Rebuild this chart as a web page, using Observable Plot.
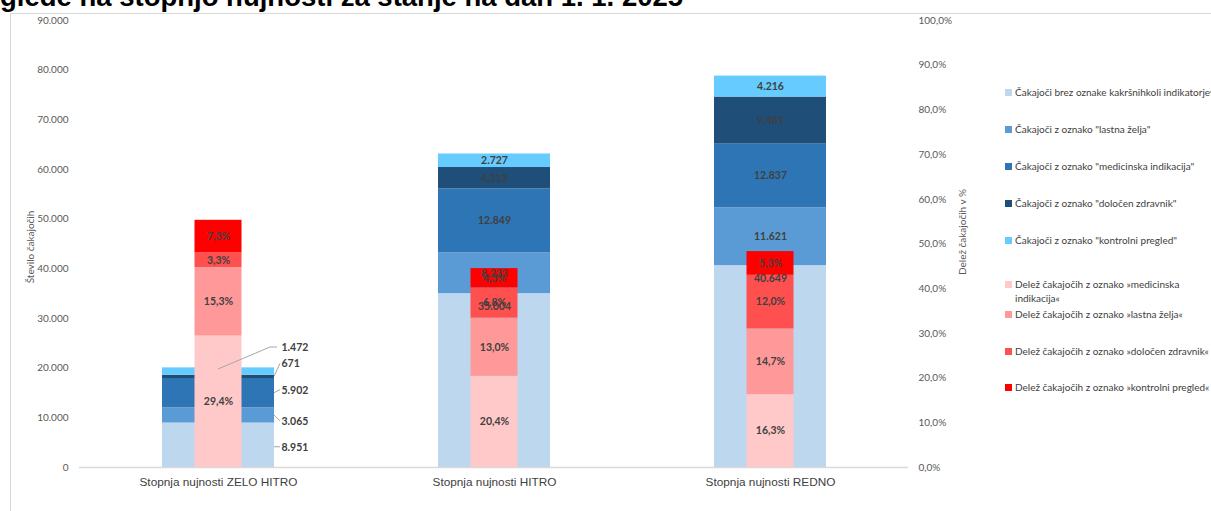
<!DOCTYPE html>
<html>
<head>
<meta charset="utf-8">
<script src="https://cdn.jsdelivr.net/npm/d3@7"></script>
<script src="https://cdn.jsdelivr.net/npm/@observablehq/plot@0.6"></script>
<style>
  html, body { margin:0; padding:0; background:#fff; width:1211px; height:511px; overflow:hidden; position:relative; }
  #title { position:absolute; left:0; top:-17px; font: bold 27.5px "Liberation Sans", Arial, sans-serif; line-height:27px; white-space:nowrap; color:#000; }
  #frame { position:absolute; left:10px; top:13px; width:1205px; height:510px; border:1px solid #d9d9d9; box-sizing:border-box; }
  #chart { position:absolute; left:11px; top:14px; }
  .ytitle { position:absolute; font: 10px Lato, "Open Sans", sans-serif; color:#595959; white-space:nowrap; transform: translate(-50%,-50%) rotate(-90deg); }
  #legend { position:absolute; left:1005px; top:0; font: 10px Lato, "Open Sans", sans-serif; color:#404040; }
  .li { position:absolute; left:0; white-space:nowrap; line-height:14px; }
  .sw { position:absolute; left:0; width:7px; height:7px; }
  .lt { position:absolute; left:10px; top:0; }
</style>
</head>
<body>
<div id="title">glede na stopnjo nujnosti za stanje na dan 1. 1. 2025</div>
<div id="frame"></div>
<div id="chart"></div>
<div class="ytitle" style="left:30px; top:247px;">Število čakajočih</div>
<div class="ytitle" style="left:962px; top:232px;">Delež čakajočih v %</div>
<div id="legend"></div>
<script>
// ---------------- data ----------------
const categories = ["Stopnja nujnosti ZELO HITRO", "Stopnja nujnosti HITRO", "Stopnja nujnosti REDNO"];

const blueSeries = [
  "Čakajoči brez oznake kakršnihkoli indikatorjev",
  "Čakajoči z oznako \"lastna želja\"",
  "Čakajoči z oznako \"medicinska indikacija\"",
  "Čakajoči z oznako \"določen zdravnik\"",
  "Čakajoči z oznako \"kontrolni pregled\""
];
// values per category, bottom to top
const brezOznake      = [8951, 35004, 40649];
const lastnaZelja     = [3065, 8233, 11621];
const medicinska      = [5902, 12849, 12837];
const dolocenZdravnik = [671, 4313, 9481];
const kontrolni       = [1472, 2727, 4216];

const redSeries = [
  "Delež čakajočih z oznako »medicinska indikacija«",
  "Delež čakajočih z oznako »lastna želja«",
  "Delež čakajočih z oznako »določen zdravnik«",
  "Delež čakajočih z oznako »kontrolni pregled«"
];
// percentages per category, bottom to top
const pctMedicinska = [29.4, 20.4, 16.3];
const pctLastna     = [15.3, 13.0, 14.7];
const pctDolocen    = [3.3, 6.8, 12.0];
const pctKontrolni  = [7.3, 4.3, 5.3];

const countTicks = [0, 10000, 20000, 30000, 40000, 50000, 60000, 70000, 80000, 90000];
const pctTicks = [0, 10, 20, 30, 40, 50, 60, 70, 80, 90, 100];

// ---------------- styles ----------------
const blueColors = ["#BDD7EE", "#5B9BD5", "#2E75B6", "#1F4E79", "#66CCFF"];
const redColors  = ["#FFC9C9", "#FF9999", "#FF5050", "#FF0000"];
const PCT = 900; // 100 % on the right axis == 90.000 on the left axis

const fmtNum = d => d3.format(",")(d).replace(/,/g, ".");
const fmtPct = p => p.toFixed(1).replace(".", ",") + "%";

// ---------------- build tables ----------------
const blueValues = [brezOznake, lastnaZelja, medicinska, dolocenZdravnik, kontrolni];
const redValues = [pctMedicinska, pctLastna, pctDolocen, pctKontrolni];

const blueRows = [];
categories.forEach((cat, ci) => {
  let cum = 0;
  blueSeries.forEach((s, si) => {
    const v = blueValues[si][ci];
    blueRows.push({cat, ci, si, series: s, value: v, y1: cum, y2: cum + v, mid: cum + v / 2, color: blueColors[si]});
    cum += v;
  });
});
const redRows = [];
categories.forEach((cat, ci) => {
  let cum = 0;
  redSeries.forEach((s, si) => {
    const v = redValues[si][ci];
    redRows.push({cat, ci, si, series: s, pct: v, y1: cum * PCT, y2: (cum + v) * PCT, mid: (cum + v / 2) * PCT, color: redColors[si]});
    cum += v;
  });
});

const blueInside = blueRows.filter(d => d.ci !== 0 && d.si !== 0);
const blueBase = blueRows.filter(d => d.ci !== 0 && d.si === 0);
const blueOutside = blueRows.filter(d => d.ci === 0);
// pixel offsets of the callout labels (ZELO HITRO)
const calloutDy = [2, 6, -3, -13, -24];

const labelFont = 'Lato, "Open Sans", sans-serif';

const leaderMark = (index, scales) => {
  const sx = scales.x, sy = scales.y;
  const bw = typeof sx.bandwidth === "function" ? sx.bandwidth() : 112;
  const g = d3.create("svg:g").attr("fill", "none").attr("stroke", "#a6a6a6").attr("stroke-width", 1);
  blueOutside.forEach((d, i) => {
    const left = sx(d.cat);
    const right = left + bw;
    const ym = sy(d.mid);
    const ly = ym + calloutDy[i];
    let pts;
    if (d.si === 4) {
      pts = [[left + bw / 2, ym - 2], [right - 4, ly], [right + 3, ly]];
    } else if (i === 0) {
      pts = [[right, ly], [right + 6, ly]];
    } else {
      pts = [[right, ym], [right + 6, ly]];
    }
    g.append("path").attr("d", d3.line()(pts));
  });
  return g.node();
};

const labelStyle = {fill: "#404040", fontSize: 10.5, fontWeight: "bold"};

const chart = Plot.plot({
  width: 990,
  height: 497,
  marginTop: 6,
  marginBottom: 44,
  marginLeft: 68,
  marginRight: 93,
  style: {background: "transparent", overflow: "visible", fontFamily: labelFont},
  x: {type: "band", domain: categories, paddingInner: 0.595, paddingOuter: 0.2975, axis: null},
  y: {domain: [0, 90000], axis: null},
  color: {type: "identity"},
  marks: [
    Plot.ruleY([0], {stroke: "#d9d9d9", strokeWidth: 1.5}),
    Plot.barY(blueRows, {x: "cat", y1: "y1", y2: "y2", fill: "color"}),
    Plot.barY(redRows, {x: "cat", y1: "y1", y2: "y2", fill: "color", insetLeft: 32.5, insetRight: 32.5}),
    leaderMark,
    Plot.text(blueInside, {x: "cat", y: "mid", text: d => fmtNum(d.value), ...labelStyle}),
    Plot.text(blueBase, {x: "cat", y: "y2", dy: 13, text: d => fmtNum(d.value), ...labelStyle}),
    ...blueOutside.map((d, i) => Plot.text([d], {x: "cat", y: "mid", dx: 63, dy: calloutDy[i], text: r => fmtNum(r.value), textAnchor: "start", ...labelStyle})),
    Plot.text(redRows, {x: "cat", y: "mid", text: d => fmtPct(d.pct), ...labelStyle}),
    Plot.axisY(countTicks, {anchor: "left", tickSize: 0, tickPadding: 11, tickFormat: fmtNum, label: null, fontSize: 10, color: "#595959"}),
    Plot.axisY(pctTicks.map(p => p * PCT), {anchor: "right", tickSize: 0, tickPadding: 10, tickFormat: v => fmtPct(v / PCT), label: null, fontSize: 10, color: "#595959"}),
    Plot.axisX({tickSize: 0, tickPadding: 10, label: null, fontSize: 11.8, color: "#404040", fontFamily: '"Liberation Sans Narrow", "Liberation Sans", Arial, sans-serif'})
  ]
});
document.getElementById("chart").appendChild(chart);

// ---------------- legend ----------------
const legendNames = blueSeries.concat(["Delež čakajočih z oznako »medicinska<br>indikacija«"], redSeries.slice(1));
const legendColors = blueColors.concat(redColors);
const legendTops = [85, 122, 159, 196, 233, 277, 307, 344, 380];
const leg = document.getElementById("legend");
legendNames.forEach((name, i) => {
  const div = document.createElement("div");
  div.className = "li";
  div.style.top = legendTops[i] + "px";
  div.innerHTML = `<span class="sw" style="background:${legendColors[i]};top:4px"></span><span class="lt">${name}</span>`;
  leg.appendChild(div);
});
</script>
</body>
</html>
